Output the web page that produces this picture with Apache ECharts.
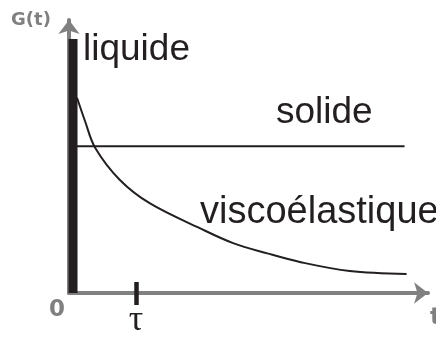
<!DOCTYPE html>
<html>
<head>
<meta charset="utf-8">
<script src="https://cdn.jsdelivr.net/npm/echarts@6/dist/echarts.min.js"></script>
<style>
html, body { margin: 0; padding: 0; background: #fff; }
#main { width: 436px; height: 339px; }
</style>
</head>
<body>
<div id="main"></div>
<script>
// temps en unites de tau, module G en unites du plateau solide
var tauTicks = [1];
var liquideT = [0.06, 0.06];
var liquideG = [0, 1.73];
var solideT = [0.12, 5.01];
var solideG = [1, 1];
var viscoT = [0.12, 0.24, 0.39, 0.76, 1.21, 1.96, 2.45, 2.96, 3.46, 4.19, 5.04];
var viscoG = [1.33, 1.17, 0.99, 0.77, 0.61, 0.44, 0.34, 0.27, 0.21, 0.15, 0.13];

function pairs(xs, ys) {
    return xs.map(function (x, i) { return [x, ys[i]]; });
}

var ink = '#231f20';
var axisGray = '#808080';
var chart = echarts.init(document.getElementById('main'));

chart.setOption({
    animation: false,
    grid: { left: 69, right: 8, top: 20, bottom: 40 },
    xAxis: [
        {
            type: 'value', min: 0, max: 5.36,
            axisLine: { show: true, symbol: ['none', 'arrow'], symbolSize: [16, 14],
                lineStyle: { color: axisGray, width: 4 } },
            axisTick: { show: true, customValues: tauTicks, length: 12, inside: false,
                lineStyle: { color: ink, width: 4.5 } },
            axisLabel: { show: true, customValues: tauTicks, margin: 28, verticalAlign: 'middle',
                formatter: function () { return 'τ'; },
                fontFamily: 'Liberation Serif', fontSize: 36, color: ink },
            splitLine: { show: false }
        },
        {
            type: 'value', min: 0, max: 5.36, position: 'bottom',
            axisLine: { show: false },
            axisTick: { show: true, customValues: tauTicks, length: 11, inside: true,
                lineStyle: { color: ink, width: 4.5 } },
            axisLabel: { show: false },
            splitLine: { show: false }
        }
    ],
    yAxis: {
        type: 'value', min: 0, max: 1.86,
        axisLine: { show: true, symbol: ['none', 'arrow'], symbolSize: [16, 14],
            lineStyle: { color: axisGray, width: 4 } },
        axisTick: { show: false },
        axisLabel: { show: false },
        splitLine: { show: false }
    },
    graphic: [
        { type: 'text', x: 31, y: 20, style: { text: 'G(t)', textAlign: 'center', textVerticalAlign: 'middle',
            font: 'bold 18px "DejaVu Sans"', fill: axisGray } },
        { type: 'text', x: 57, y: 310, style: { text: '0', textAlign: 'center', textVerticalAlign: 'middle',
            font: 'bold 23px "DejaVu Sans"', fill: axisGray } },
        { type: 'text', x: 430, y: 318, style: { text: 't', textAlign: 'left', textVerticalAlign: 'middle',
            font: 'bold 23px "DejaVu Sans"', fill: axisGray } },
        { type: 'text', x: 83, y: 50, style: { text: 'liquide', textAlign: 'left', textVerticalAlign: 'middle',
            font: '37px "Liberation Sans"', fill: ink } },
        { type: 'text', x: 276, y: 113, style: { text: 'solide', textAlign: 'left', textVerticalAlign: 'middle',
            font: '37px "Liberation Sans"', fill: ink } },
        { type: 'text', x: 200, y: 213, style: { text: 'viscoélastique', textAlign: 'left', textVerticalAlign: 'middle',
            font: '38px "Liberation Sans"', fill: ink } }
    ],
    series: [
        {
            name: 'viscoélastique', type: 'line', data: pairs(viscoT, viscoG),
            smooth: 0.35, showSymbol: false, symbol: 'none',
            lineStyle: { color: ink, width: 2 }, z: 2
        },
        {
            name: 'solide', type: 'line', data: pairs(solideT, solideG),
            showSymbol: false, symbol: 'none',
            lineStyle: { color: ink, width: 2 }, z: 2
        },
        {
            name: 'liquide', type: 'line', data: pairs(liquideT, liquideG),
            showSymbol: false, symbol: 'none',
            lineStyle: { color: ink, width: 9, cap: 'butt' }, z: 3
        }
    ]
});
</script>
</body>
</html>
